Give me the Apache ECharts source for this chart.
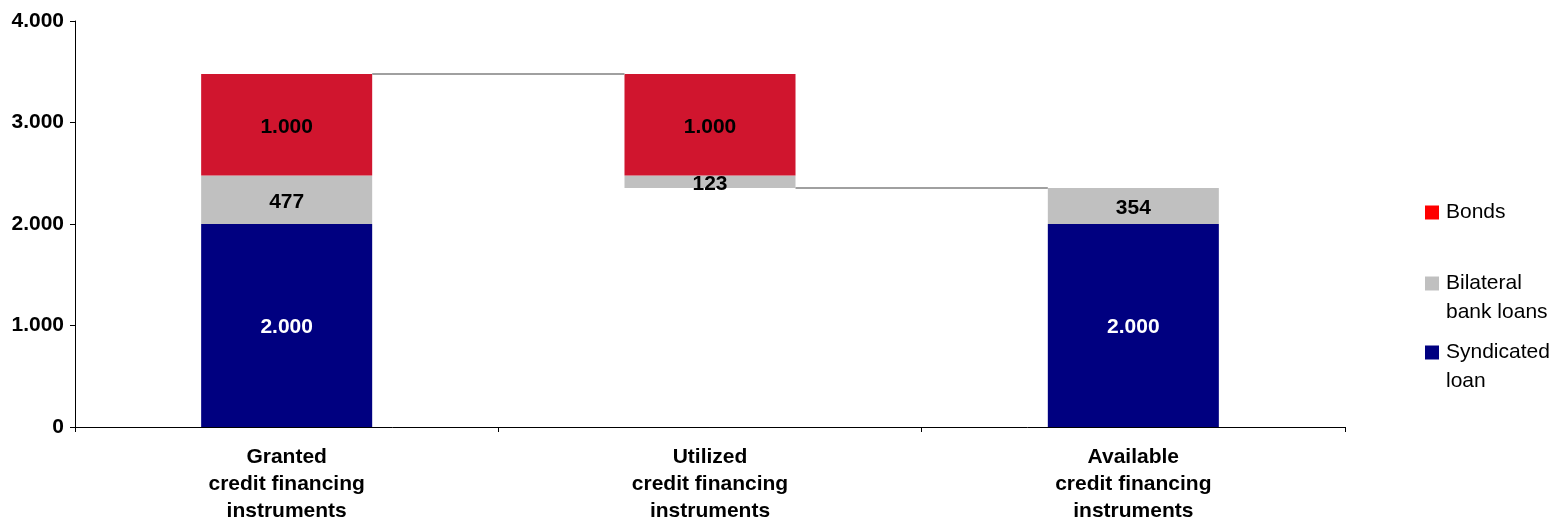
<!DOCTYPE html>
<html>
<head>
<meta charset="utf-8">
<script src="https://cdn.jsdelivr.net/npm/echarts@6/dist/echarts.min.js"></script>
<style>
  html, body { margin: 0; padding: 0; background: #fff; }
  #chart { width: 1560px; height: 520px; }
</style>
</head>
<body>
<div id="chart"></div>
<script>
// categories and values
var categories = ['Granted\ncredit financing\ninstruments', 'Utilized\ncredit financing\ninstruments', 'Available\ncredit financing\ninstruments'];
var offset = [0, 2354, 0];          // invisible base of the floating bar
var syndicated = [2000, '-', 2000];
var bilateral = [477, 123, 354];
var bonds = [1000, 1000, '-'];
var yTicks = { min: 0, max: 4000, interval: 1000 };

var FONT = 'Liberation Sans, Arial, sans-serif';
var BAR_W = 0.404;

function fmt(v) {
	return String(v).replace(/\B(?=(\d{3})+(?!\d))/g, '.');
}
function num(v) { return v === '-' ? 0 : v; }

// connector lines at the top of the first bar and the top of the last bar
var grantedTotal = num(syndicated[0]) + num(bilateral[0]) + num(bonds[0]);
var availableTotal = num(syndicated[2]) + num(bilateral[2]) + num(bonds[2]);
var connectors = [[0, grantedTotal], [1, availableTotal]];

var chart = echarts.init(document.getElementById('chart'));

function barLabel(color) {
	return {
		show: true,
		position: 'inside',
		offset: [0, 2],
		color: color,
		fontFamily: FONT,
		fontWeight: 'bold',
		fontSize: 21,
		formatter: function (p) { return fmt(p.value); }
	};
}

function legendBox(name, color, top) {
	return {
		orient: 'vertical',
		left: 1420,
		top: top,
		itemWidth: 14,
		itemHeight: 14,
		icon: 'rect',
		selectedMode: false,
		data: [{ name: name, itemStyle: { color: color } }],
		// two-line names: a blank first line keeps the icon on the first text line
		formatter: function (n) { return n.indexOf('\n') >= 0 ? '\n' + n : n; },
		textStyle: {
			fontFamily: FONT,
			fontSize: 21,
			color: '#000',
			lineHeight: 29,
			padding: [0, 0, 0, 2]
		}
	};
}

chart.setOption({
	animation: false,
	grid: { left: 75, right: 215, top: 21, bottom: 93, outerBoundsMode: 'none' },
	legend: [
		legendBox('Bonds', '#FF0000', 193),
		legendBox('Bilateral\nbank loans', '#C0C0C0', 235),
		legendBox('Syndicated\nloan', '#000080', 304)
	],
	xAxis: {
		type: 'category',
		data: categories,
		axisLine: { lineStyle: { color: '#000', width: 1 } },
		axisTick: { show: true, length: 5, lineStyle: { color: '#000' } },
		axisLabel: {
			interval: 0,
			margin: 17,
			color: '#000',
			fontFamily: FONT,
			fontWeight: 'bold',
			fontSize: 21,
			lineHeight: 27,
			align: 'center'
		}
	},
	yAxis: {
		type: 'value',
		min: yTicks.min,
		max: yTicks.max,
		interval: yTicks.interval,
		splitLine: { show: false },
		axisLine: { show: true, lineStyle: { color: '#000', width: 1 } },
		axisTick: { show: true, length: 5, lineStyle: { color: '#000' } },
		axisLabel: {
			margin: 11,
			color: '#000',
			fontFamily: FONT,
			fontWeight: 'bold',
			fontSize: 21,
			formatter: fmt
		}
	},
	series: [
		{
			name: 'base',
			type: 'bar',
			stack: 'all',
			barWidth: (BAR_W * 100) + '%',
			data: offset,
			itemStyle: { color: 'rgba(0,0,0,0)' },
			silent: true
		},
		{
			name: 'Syndicated\nloan',
			type: 'bar',
			stack: 'all',
			data: syndicated,
			itemStyle: { color: '#000080' },
			label: barLabel('#fff')
		},
		{
			name: 'Bilateral\nbank loans',
			type: 'bar',
			stack: 'all',
			data: bilateral,
			itemStyle: { color: '#C0C0C0' },
			label: barLabel('#000')
		},
		{
			name: 'Bonds',
			type: 'bar',
			stack: 'all',
			data: bonds,
			itemStyle: { color: '#D0152E' },
			label: barLabel('#000')
		},
		{
			type: 'custom',
			silent: true,
			z: 5,
			encode: { x: 0, y: 1 },
			data: connectors,
			renderItem: function (params, api) {
				var a = api.coord([api.value(0), api.value(1)]);
				var b = api.coord([api.value(0) + 1, api.value(1)]);
				var half = api.size([1, 0])[0] * BAR_W / 2;
				return {
					type: 'line',
					shape: { x1: a[0] + half, y1: a[1], x2: b[0] - half, y2: b[1] },
					style: { stroke: '#A0A0A0', lineWidth: 2 }
				};
			}
		}
	]
});
</script>
</body>
</html>
